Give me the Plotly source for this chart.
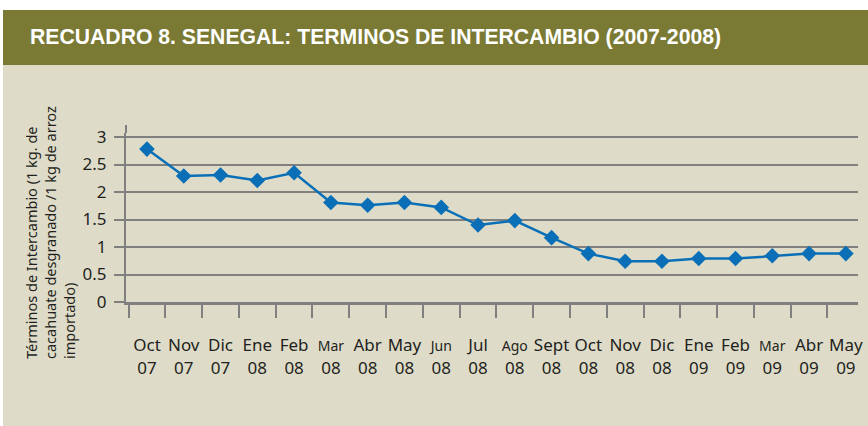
import plotly.graph_objects as go

months = ["Oct", "Nov", "Dic", "Ene", "Feb", "Mar", "Abr", "May", "Jun", "Jul",
          "Ago", "Sept", "Oct", "Nov", "Dic", "Ene", "Feb", "Mar", "Abr", "May"]
years = ["07", "07", "07", "08", "08", "08", "08", "08", "08", "08",
         "08", "08", "08", "08", "08", "09", "09", "09", "09", "09"]
values = [2.78, 2.29, 2.31, 2.21, 2.35, 1.81, 1.76, 1.81, 1.72, 1.40,
          1.48, 1.17, 0.88, 0.74, 0.74, 0.79, 0.79, 0.84, 0.88, 0.88]
small_months = {"Mar", "Jun", "Ago"}
y_ticks = [0, 0.5, 1, 1.5, 2, 2.5, 3]
y_tick_labels = ["0", "0.5", "1", "1.5", "2", "2.5", "3"]

title_text = "RECUADRO 8. SENEGAL: TERMINOS DE INTERCAMBIO (2007-2008)"
ytitle = "Términos de Intercambio (1 kg. de<br>cacahuate desgranado /1 kg de arroz<br>importado)"

# page body margin is removed by post_script, so figure fills the window
WIN_W, WIN_H = 868, 426
W, H = WIN_W, WIN_H
# plot area in window pixels
PL, PR, PT, PB = 126, 858, 133, 302
L, T = PL, PT
R, B = WIN_W - PR, WIN_H - PB
PW, PH = PR - PL, PB - PT


def px(x):
    return (x - PL) / PW


def py(y):
    return (PB - y) / PH


cats = [f"{m} {y}" for m, y in zip(months, years)]
labels = []
for m, y in zip(months, years):
    if m in small_months:
        labels.append(f"<span style='font-size:14px'>{m}</span><br>{y}")
    else:
        labels.append(f"{m}<br>{y}")

fig = go.Figure()
fig.add_trace(go.Scatter(
    x=cats, y=values, mode="lines+markers",
    line=dict(color="#0a6fb7", width=2.5),
    marker=dict(symbol="diamond", size=12, color="#0a6fb7"),
    hoverinfo="skip", showlegend=False,
))

font_family = "Noto Sans, Open Sans, sans-serif"
fig.update_layout(
    width=W, height=H,
    margin=dict(l=L, r=R, t=T, b=B, autoexpand=False),
    paper_bgcolor="#ffffff",
    plot_bgcolor="#dcdde0",
    font=dict(family=font_family, color="#231f20", size=17),
    xaxis=dict(
        type="category", categoryorder="array", categoryarray=cats,
        tickmode="array", tickvals=cats, ticktext=labels,
        range=[-0.57, 19.33], tickson="boundaries", tickangle=0, automargin=False,
        ticks="outside", ticklen=13, tickwidth=2, tickcolor="#808080",
        showline=True, linecolor="#808080", linewidth=3,
        showgrid=False, zeroline=False, ticklabelstandoff=26,
        tickfont=dict(size=17),
    ),
    yaxis=dict(
        range=[0, 3.073], tickmode="array", tickvals=y_ticks, ticktext=y_tick_labels,
        ticks="outside", ticklen=10, tickwidth=2, tickcolor="#808080", automargin=False,
        showline=True, linecolor="#808080", linewidth=2,
        showgrid=True, gridcolor="#808080", gridwidth=2, zeroline=False,
        ticklabelstandoff=4, tickfont=dict(size=17),
    ),
    shapes=[
        dict(type="rect", xref="paper", yref="paper", layer="below",
             x0=px(3), x1=px(WIN_W + 2), y0=py(WIN_H + 2), y1=py(65),
             fillcolor="#dedcc8", line=dict(width=0)),
        dict(type="rect", xref="paper", yref="paper", layer="below",
             x0=px(3), x1=px(WIN_W + 2), y0=py(65), y1=py(10),
             fillcolor="#7a7a34", line=dict(width=0)),
        dict(type="line", xref="paper", yref="paper",
             x0=0, x1=0, y0=1, y1=py(125),
             line=dict(color="#808080", width=2)),
    ],
    annotations=[
        dict(text=f"<b>{title_text}</b>", xref="paper", yref="paper",
             x=px(28), y=py(37), xanchor="left", yanchor="middle", showarrow=False,
             font=dict(family="Liberation Sans, Arial", size=21.2, color="#ffffff")),
        dict(text=ytitle, xref="paper", yref="paper", textangle=-90, align="left",
             x=px(50), y=py(233), xanchor="center", yanchor="middle", showarrow=False,
             font=dict(size=14.5, color="#231f20")),
    ],
)

fig.write_html("out.html", config={"displayModeBar": False},
               post_script="document.body.style.margin='0';document.body.style.overflow='hidden';")
